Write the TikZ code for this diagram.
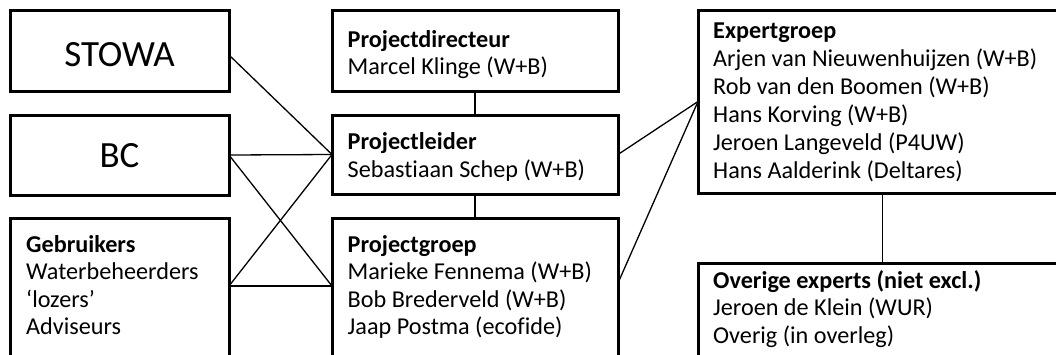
\documentclass[tikz,border=0pt]{standalone}
\usepackage{fontspec}
\setmainfont{Carlito}[Ligatures=NoCommon]
\begin{document}
\begin{tikzpicture}[x=1pt,y=-1pt,
  box/.style={draw, line width=3pt, rectangle, inner sep=0pt, outer sep=0pt, anchor=north west},
  conn/.style={line width=1.3pt},
  txt/.style={anchor=base west, inner sep=0pt, font=\fontsize{24.2}{26}\selectfont},
  ttl/.style={anchor=base west, inner sep=0pt, font=\fontsize{24.2}{26}\selectfont\bfseries},
  big/.style={anchor=base, inner sep=0pt, font=\fontsize{37}{40}\selectfont}]
\useasboundingbox (0,0) rectangle (1056,354);
\clip (0,0) rectangle (1056,354);
% boxes
\node[box, minimum width=219pt, minimum height=81pt] (stowa) at (10,10) {};
\node[box, minimum width=219pt, minimum height=80pt] (bc) at (10,115) {};
\node[box, minimum width=219pt, minimum height=200pt] (gb) at (10,218) {};
\node[box, minimum width=286pt, minimum height=81pt] (pd) at (332,10) {};
\node[box, minimum width=286pt, minimum height=79pt] (pl) at (332,115) {};
\node[box, minimum width=286pt, minimum height=200pt] (pg) at (332,218) {};
\node[box, minimum width=369pt, minimum height=183pt] (eg) at (698,10) {};
\node[box, minimum width=369pt, minimum height=150pt] (oe) at (698,263) {};
% texts
\node[big] (tstowa) at (119.5,66) {STOWA};
\node[big] (tbc) at (119.5,167) {BC};
\node[ttl] (tgb0) at (26,252) {Gebruikers};
\node[txt] (tgb1) at (26,279.5) {Waterbeheerders};
\node[txt] (tgb2) at (26,307) {‘lozers’};
\node[txt] (tgb3) at (26,334.5) {Adviseurs};
\node[ttl] (tpd0) at (347.5,47) {Projectdirecteur};
\node[txt] (tpd1) at (347.5,74) {Marcel Klinge (W+B)};
\node[ttl] (tpl0) at (347.5,149.5) {Projectleider};
\node[txt] (tpl1) at (347.5,177) {Sebastiaan Schep (W+B)};
\node[ttl] (tpg0) at (347.5,252) {Projectgroep};
\node[txt] (tpg1) at (347.5,279.5) {Marieke Fennema (W+B)};
\node[txt] (tpg2) at (347.5,307) {Bob Brederveld (W+B)};
\node[txt] (tpg3) at (347.5,334.5) {Jaap Postma (ecofide)};
\node[ttl] (teg0) at (713,38.5) {Expertgroep};
\node[txt] (teg1) at (713,66.5) {Arjen van Nieuwenhuijzen (W+B)};
\node[txt] (teg2) at (713,94.5) {Rob van den Boomen (W+B)};
\node[txt] (teg3) at (713,122.5) {Hans Korving (W+B)};
\node[txt] (teg4) at (713,150.5) {Jeroen Langeveld (P4UW)};
\node[txt] (teg5) at (713,178.5) {Hans Aalderink (Deltares)};
\node[ttl] (toe0) at (713,288) {Overige experts (niet excl.)};
\node[txt] (toe1) at (713,315.5) {Jeroen de Klein (WUR)};
\node[txt] (toe2) at (713,343) {Overig (in overleg)};
% connector points
\coordinate (stE) at ([yshift=-4.5pt]stowa.east);
\coordinate (gbE) at ([yshift=-68pt]gb.north east);
\coordinate (pgW) at ([yshift=-68pt]pg.north west);
\coordinate (pgE) at ([yshift=-65pt]pg.north east);
% connectors
\draw[conn] (stE) -- (pl.west);
\draw[conn] (bc.east) -- (pl.west);
\draw[conn] (bc.east) -- (pgW);
\draw[conn] (gbE) -- (pl.west);
\draw[conn] (gbE) -- (pgW);
\draw[conn] (pd.south) -- (pl.north);
\draw[conn] (pl.south) -- (pg.north);
\draw[conn] (pl.east) -- (eg.west);
\draw[conn] (pgE) -- (eg.west);
\draw[conn] (eg.south) -- (oe.north);
\end{tikzpicture}
\end{document}
